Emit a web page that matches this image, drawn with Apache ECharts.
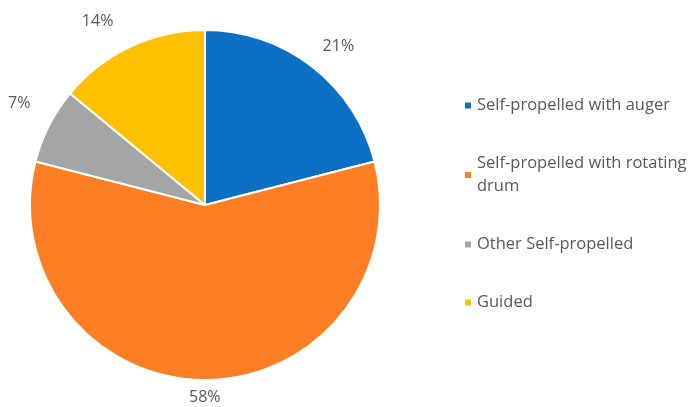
<!DOCTYPE html>
<html>
<head>
<meta charset="utf-8">
<script src="https://cdn.jsdelivr.net/npm/echarts@6/dist/echarts.min.js"></script>
<style>
  html, body { margin: 0; padding: 0; background: #fff; }
  #chart { width: 689px; height: 407px; }
</style>
</head>
<body>
<div id="chart"></div>
<script>
let categories = ['Self-propelled with auger', 'Self-propelled with rotating drum', 'Other Self-propelled', 'Guided'];
let shares = [21, 58, 7, 14];
let colors = ['#0B6FC6', '#FD7E23', '#A5A5A5', '#FFC000'];
// small nudges so the percent labels sit where the original put them
let labelNudge = [[-2, -11], [-21, 5], [-3, -17], [-7, -14]];

let chart = echarts.init(document.getElementById('chart'));

let pieData = categories.map(function (name, i) {
    return {
        name: name,
        value: shares[i],
        itemStyle: { color: colors[i] },
        label: { offset: labelNudge[i] }
    };
});

let option = {
    animation: false,
    textStyle: { fontFamily: 'Open Sans' },
    legend: {
        orient: 'vertical',
        left: 458,
        top: 89,
        icon: 'rect',
        itemWidth: 8,
        itemHeight: 8,
        itemGap: 35,
        selectedMode: false,
        textStyle: { fontSize: 16.5, color: '#595959', lineHeight: 23 },
        formatter: function (name) {
            // the long entry wraps onto two lines
            return name.replace('rotating drum', 'rotating\ndrum');
        },
        data: categories
    },
    series: [
        {
            type: 'pie',
            center: [205, 205],
            radius: 175,
            startAngle: 90,
            clockwise: true,
            avoidLabelOverlap: false,
            itemStyle: { borderColor: '#fff', borderWidth: 2 },
            label: {
                show: true,
                position: 'outside',
                formatter: '{c}%',
                fontSize: 16,
                color: '#595959'
            },
            labelLine: { show: false, length: 12, length2: 0 },
            data: pieData
        }
    ]
};
option && chart.setOption(option);
</script>
</body>
</html>
